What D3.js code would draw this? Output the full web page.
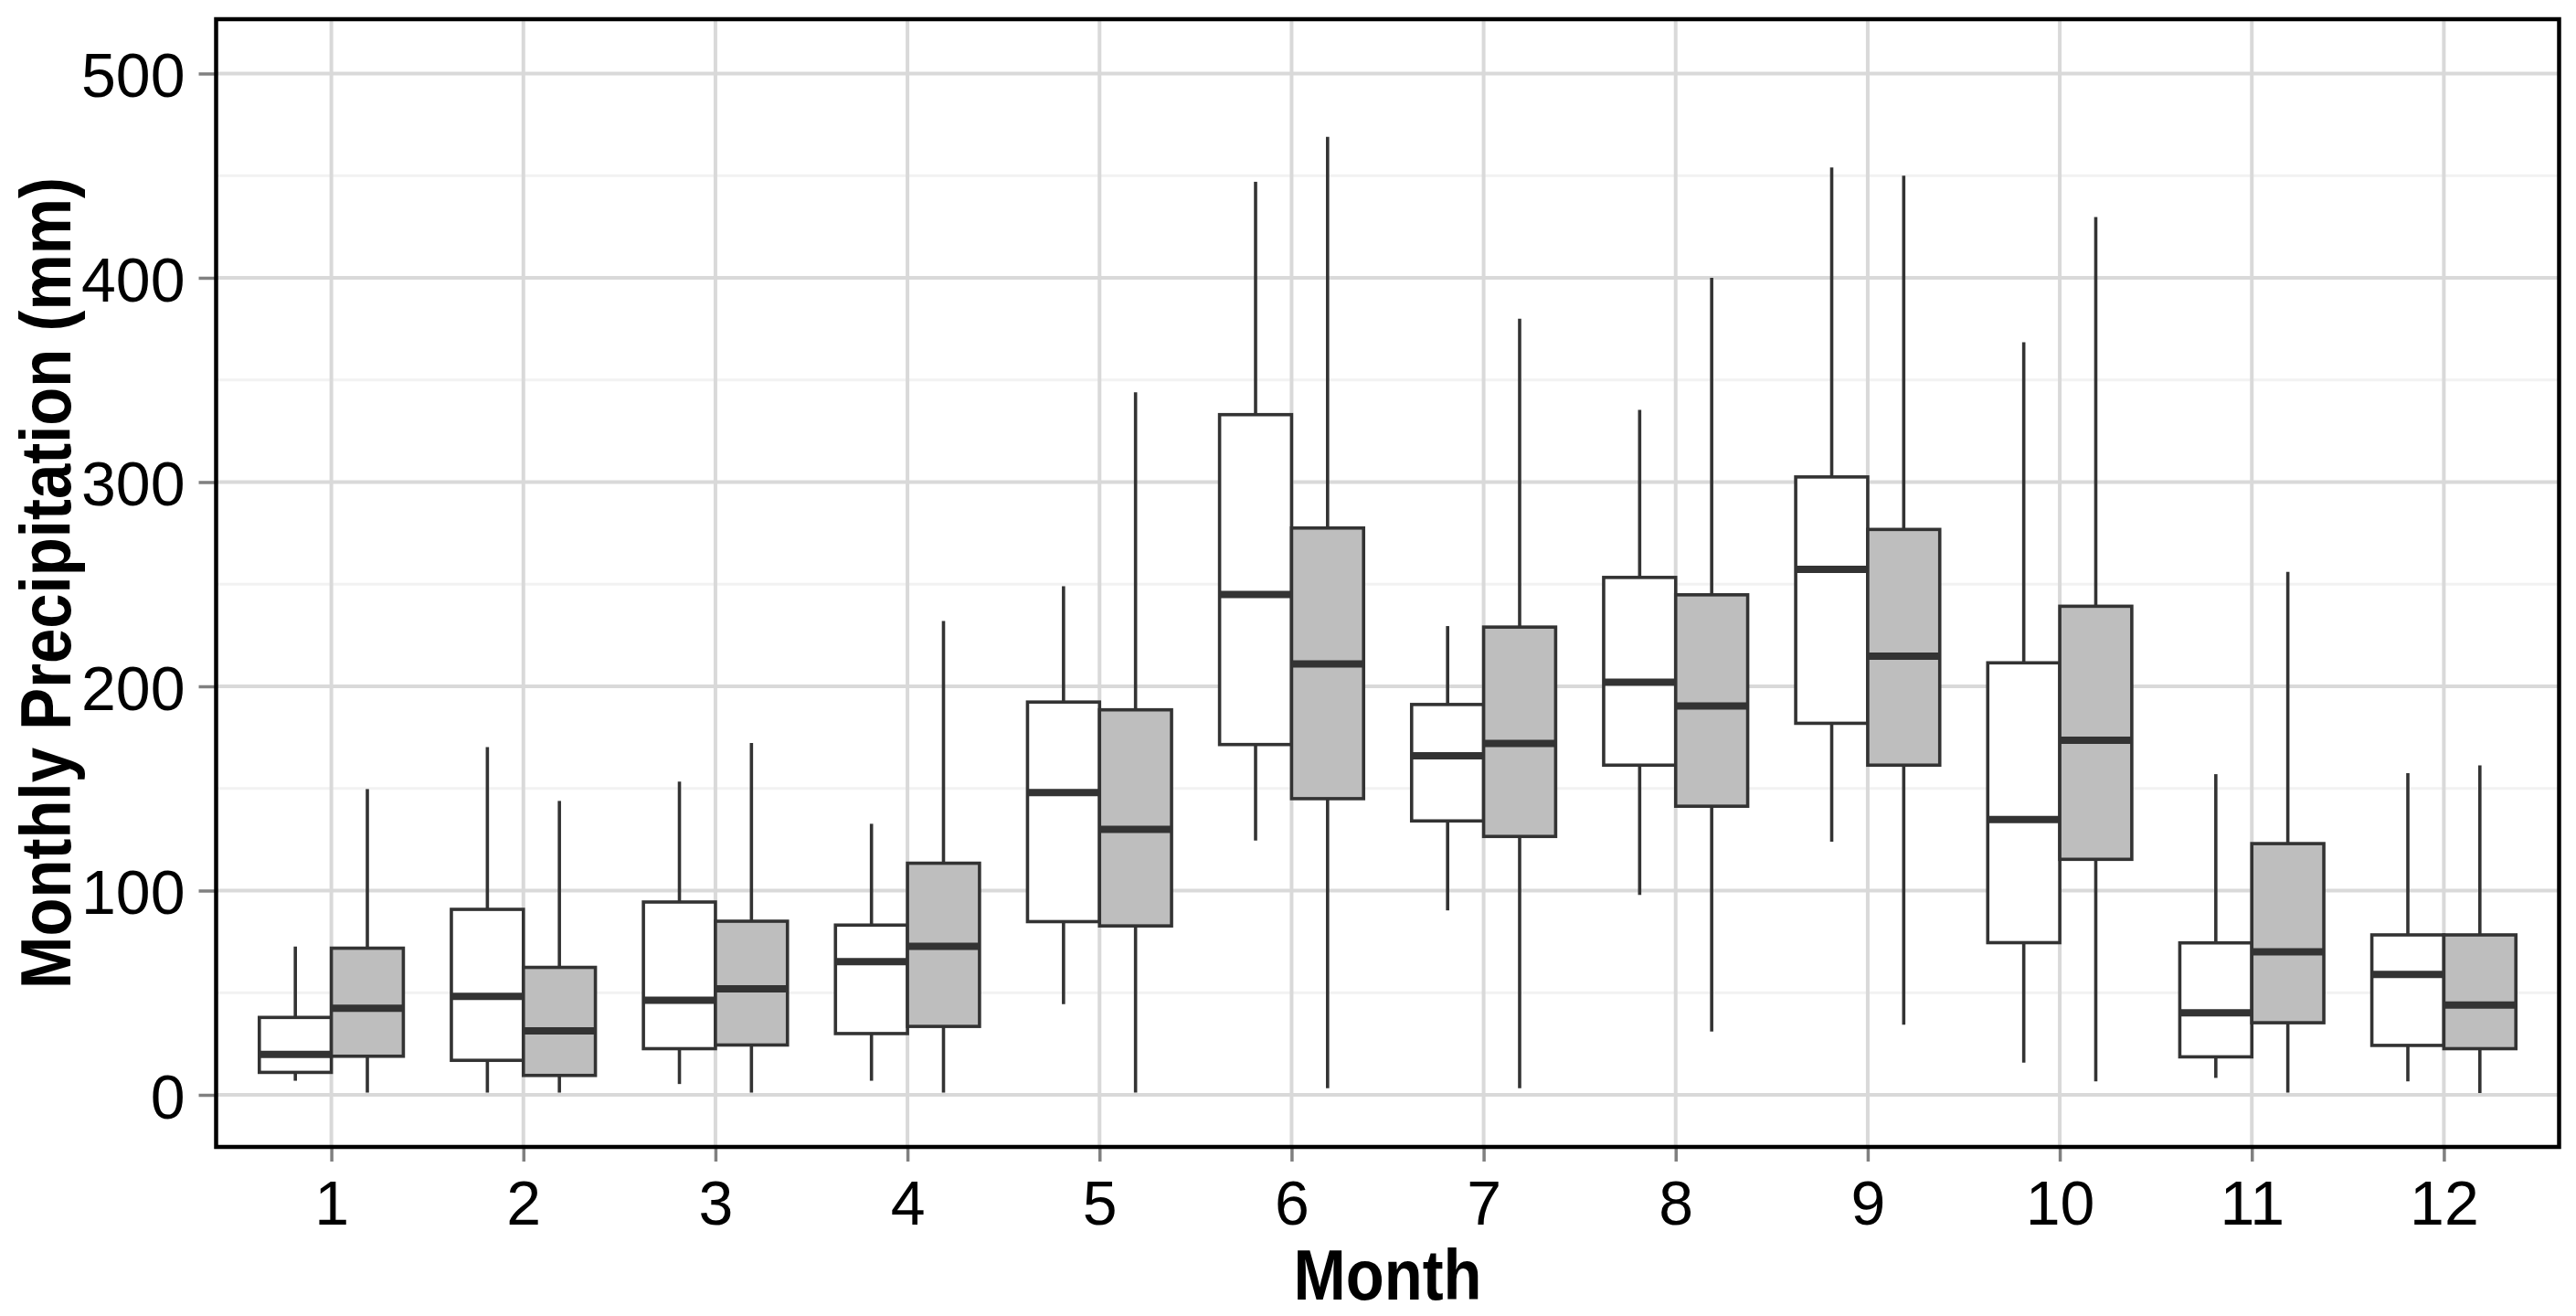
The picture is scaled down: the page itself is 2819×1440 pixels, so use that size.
<!DOCTYPE html>
<meta charset="utf-8">
<title>Monthly Precipitation boxplot</title>
<style>
body { margin: 0; background: #fff; }

.grid-major line { stroke: #d9d9d9; stroke-width: 4px; }
.grid-minor line { stroke: #f2f2f2; stroke-width: 3px; }

.axis text {
  font-family: "Liberation Sans", Arial, sans-serif;
  font-size: 68px;
  fill: #000;
}
.axis line { stroke: #808080; stroke-width: 3.5px; }
.axis path { display: none; }

.box rect { stroke: #333; stroke-width: 3.6px; }
.box .whisker { stroke: #333; stroke-width: 3.6px; }
.box .median { stroke: #333; stroke-width: 8px; }

.axis-title {
  font-family: "Liberation Sans", Arial, sans-serif;
  font-weight: bold;
  font-size: 77px;
  fill: #000;
}
</style>
<body>
<div id="chart"></div>
<script src="https://cdn.jsdelivr.net/npm/d3@7"></script>
<script>

// data (five number summaries, whiskers without outliers)
const months = [1, 2, 3, 4, 5, 6, 7, 8, 9, 10, 11, 12];

// white boxes
const whiteLow    = [6.9, 1.1, 5.3, 6.9, 44.4, 124.5, 90.3, 97.9, 123.9, 15.8, 8.3, 6.6];
const whiteQ1     = [11, 16.9, 22.6, 30, 84.8, 171.5, 134.1, 161.4, 181.9, 74.5, 18.6, 24.2];
const whiteMedian = [19.8, 48.2, 46.3, 65.2, 148, 245, 166, 202, 257.3, 134.8, 40.2, 58.9];
const whiteQ3     = [37.9, 90.8, 94.4, 83.1, 192.3, 333, 191.1, 253.3, 302.5, 211.5, 74.4, 78.3];
const whiteHigh   = [72.6, 170.2, 153.4, 132.7, 249, 447, 229.5, 335.3, 454, 368.4, 157, 157.5];

// grey boxes
const greyLow    = [1.1, 1.1, 1.1, 1.1, 1.1, 3.2, 3.3, 31, 34.3, 6.6, 1.1, 0.9];
const greyQ1     = [18.9, 9.5, 24.4, 33.5, 82.7, 145, 126.5, 141.3, 161.4, 115.3, 35.3, 22.6];
const greyMedian = [42.4, 31.3, 51.9, 72.7, 130, 211, 172, 190.4, 214.8, 173.6, 70, 44];
const greyQ3     = [71.8, 62.4, 85, 113.4, 188.5, 277.5, 229, 244.8, 276.8, 239.2, 123, 78.3];
const greyHigh   = [149.7, 143.9, 172.3, 232, 344, 469, 380, 400, 450, 429.7, 256, 161.3];

const yTicks = [0, 100, 200, 300, 400, 500];
const yMinorTicks = [50, 150, 250, 350, 450];
const yLimits = [-25.5, 526.6]; // expanded limits of the y scale

const xTitle = "Month";
const yTitle = "Monthly Precipitation (mm)";

// layout
let width = 2819;
let height = 1440;
let margin = { top: 21, right: 18.5, bottom: 185, left: 236.5 };
let chartWidth = width - margin.left - margin.right;
let chartHeight = height - margin.top - margin.bottom;

// build the table the boxes are drawn from
function buildRows(low, q1, med, q3, high, group, fill) {
    return months.map(function(m, i) {
        return { month: m, group: group, fill: fill,
                 low: low[i], q1: q1[i], median: med[i], q3: q3[i], high: high[i] };
    });
}
const rows = buildRows(whiteLow, whiteQ1, whiteMedian, whiteQ3, whiteHigh, "a", "#ffffff")
    .concat(buildRows(greyLow, greyQ1, greyMedian, greyQ3, greyHigh, "b", "#bebebe"));

// scales
const x = d3.scalePoint()
    .domain(months)
    .range([0, chartWidth])
    .padding(0.6);

const dodge = d3.scaleBand()
    .domain(["a", "b"])
    .range([-0.375 * x.step(), 0.375 * x.step()]);

const y = d3.scaleLinear()
    .domain(yLimits)
    .range([chartHeight, 0]);

// svg
const svg = d3.select("#chart")
    .append("svg")
    .attr("width", width)
    .attr("height", height);

const g = svg.append("g")
    .attr("transform", `translate(${margin.left},${margin.top})`);

// grid
g.append("g").attr("class", "grid-minor")
    .selectAll("line")
    .data(yMinorTicks)
    .enter().append("line")
    .attr("x1", 0).attr("x2", chartWidth)
    .attr("y1", d => y(d)).attr("y2", d => y(d));

g.append("g").attr("class", "grid-major")
    .selectAll("line")
    .data(yTicks)
    .enter().append("line")
    .attr("x1", 0).attr("x2", chartWidth)
    .attr("y1", d => y(d)).attr("y2", d => y(d));

g.append("g").attr("class", "grid-major")
    .selectAll("line")
    .data(months)
    .enter().append("line")
    .attr("x1", d => x(d)).attr("x2", d => x(d))
    .attr("y1", 0).attr("y2", chartHeight);

// boxes
const box = g.selectAll(".box")
    .data(rows)
    .enter().append("g")
    .attr("class", "box")
    .attr("transform", d => `translate(${x(d.month) + dodge(d.group)},0)`);

const bw = dodge.bandwidth();

box.append("line").attr("class", "whisker")
    .attr("x1", bw / 2).attr("x2", bw / 2)
    .attr("y1", d => y(d.q3)).attr("y2", d => y(d.high));

box.append("line").attr("class", "whisker")
    .attr("x1", bw / 2).attr("x2", bw / 2)
    .attr("y1", d => y(d.q1)).attr("y2", d => y(d.low));

box.append("rect")
    .attr("x", 0)
    .attr("width", bw)
    .attr("y", d => y(d.q3))
    .attr("height", d => y(d.q1) - y(d.q3))
    .attr("fill", d => d.fill);

box.append("line").attr("class", "median")
    .attr("x1", 0).attr("x2", bw)
    .attr("y1", d => y(d.median)).attr("y2", d => y(d.median));

// axes
g.append("g")
    .attr("class", "axis")
    .call(d3.axisLeft(y).tickValues(yTicks).tickSize(19).tickPadding(15))
    .selectAll("text").attr("dy", "0.37em");

g.append("g")
    .attr("class", "axis")
    .attr("transform", `translate(0,${chartHeight})`)
    .call(d3.axisBottom(x).tickSize(16).tickPadding(21));

// panel border
g.append("rect")
    .attr("width", chartWidth)
    .attr("height", chartHeight)
    .attr("fill", "none")
    .attr("stroke", "#000")
    .attr("stroke-width", 4.5);

// axis titles
svg.append("text")
    .attr("class", "axis-title")
    .attr("x", margin.left + chartWidth / 2)
    .attr("y", 1422)
    .attr("text-anchor", "middle")
    .attr("textLength", 206)
    .attr("lengthAdjust", "spacingAndGlyphs")
    .text(xTitle);

svg.append("text")
    .attr("class", "axis-title")
    .attr("transform", `translate(77,${margin.top + chartHeight / 2}) rotate(-90)`)
    .attr("text-anchor", "middle")
    .attr("font-size", 78)
    .style("font-size", "78px")
    .attr("textLength", 888)
    .attr("lengthAdjust", "spacingAndGlyphs")
    .text(yTitle);

</script>
</body>
